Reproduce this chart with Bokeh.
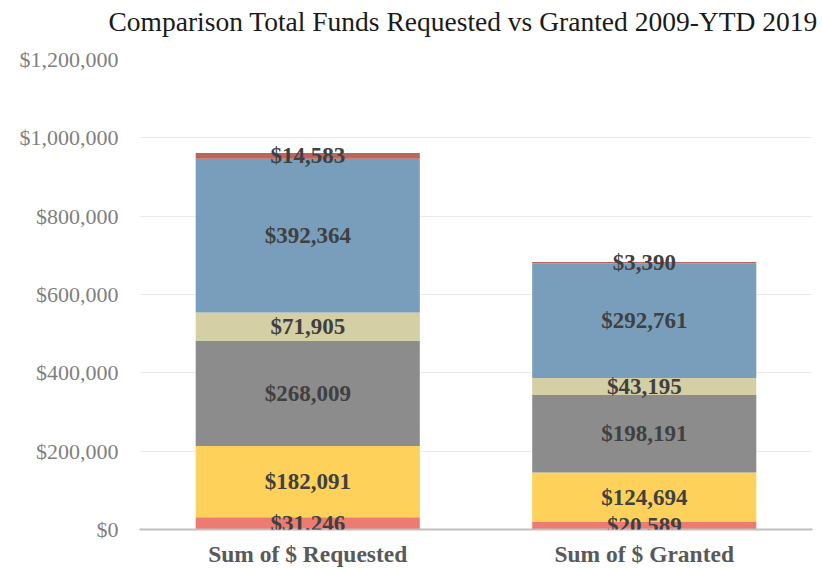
from bokeh.plotting import figure
from bokeh.models import ColumnDataSource, LabelSet, Title, NumeralTickFormatter, FixedTicker, Range1d
from bokeh.embed import file_html
from bokeh.resources import INLINE

title_text = "Comparison Total Funds Requested vs Granted 2009-YTD 2019"
categories = ["Sum of $ Requested", "Sum of $ Granted"]
series_names = ["s1", "s2", "s3", "s4", "s5", "s6", "s7"]
series_values = {
    "s1": [31246, 20589],
    "s2": [182091, 124694],
    "s3": [268009, 198191],
    "s4": [900, 0],
    "s5": [71905, 43195],
    "s6": [392364, 292761],
    "s7": [14583, 3390],
}
show_label = {"s1": True, "s2": True, "s3": True, "s4": False, "s5": True, "s6": True, "s7": True}
colors = ["#EC7C72", "#FDD15A", "#8C8C8C", "#8CC05A", "#D4CFA5", "#789EBB", "#B9665E"]
y_ticks = [0, 200000, 400000, 600000, 800000, 1000000, 1200000]

FONT = "Liberation Serif"

p = figure(x_range=categories, width=822, height=569, output_backend="svg",
           toolbar_location=None, title=title_text)
p.y_range = Range1d(0, 1200000)
p.min_border_left = 139
p.min_border_right = 10
p.min_border_top = 59
p.min_border_bottom = 40

data = {"cat": categories}
data.update(series_values)
src = ColumnDataSource(data)
p.vbar_stack(series_names, x="cat", width=0.666, color=colors, source=src, line_color=None)

bottoms = [0, 0]
for name in series_names:
    vals = series_values[name]
    mids = [b + v / 2 for b, v in zip(bottoms, vals)]
    bottoms = [b + v for b, v in zip(bottoms, vals)]
    if not show_label[name]:
        continue
    lsrc = ColumnDataSource(dict(cat=categories, y=mids, t=["${:,}".format(v) for v in vals]))
    p.add_layout(LabelSet(x="cat", y="y", text="t", source=lsrc, text_align="center",
                          text_baseline="middle", text_font=FONT, text_font_style="bold",
                          text_font_size="23px", text_color="#404040"))

# spacer between the title and the plot frame
p.add_layout(Title(text=" ", text_font_size="1px", standoff=14), "above")

p.title.text_font = FONT
p.title.text_font_size = "27.5px"
p.title.text_font_style = "normal"
p.title.text_color = "#1a1a1a"
p.title.align = "left"
p.title.vertical_align = "top"
p.title.offset = -31
p.title.standoff = 8

p.yaxis.ticker = FixedTicker(ticks=y_ticks)
p.yaxis.formatter = NumeralTickFormatter(format="$0,0")
p.yaxis.axis_line_color = None
p.yaxis.major_tick_line_color = None
p.yaxis.minor_tick_line_color = None
p.yaxis.major_tick_out = 0
p.yaxis.major_tick_in = 0
p.yaxis.major_label_text_font = FONT
p.yaxis.major_label_text_font_size = "22px"
p.yaxis.major_label_text_color = "#7f7f7f"
p.yaxis.major_label_standoff = 21

p.xaxis.axis_line_color = "#bfbfbf"
p.xaxis.axis_line_width = 2
p.xaxis.major_tick_line_color = None
p.xaxis.minor_tick_line_color = None
p.xaxis.major_tick_out = 0
p.xaxis.major_tick_in = 0
p.xaxis.major_label_text_font = FONT
p.xaxis.major_label_text_font_style = "bold"
p.xaxis.major_label_text_font_size = "23.5px"
p.xaxis.major_label_text_color = "#595959"
p.xaxis.major_label_standoff = 11

p.xgrid.grid_line_color = None
p.ygrid.grid_line_color = "#eaeaea"
p.outline_line_color = None
p.x_range.range_padding = 0.0

open("out.html", "w").write(file_html(p, INLINE))
